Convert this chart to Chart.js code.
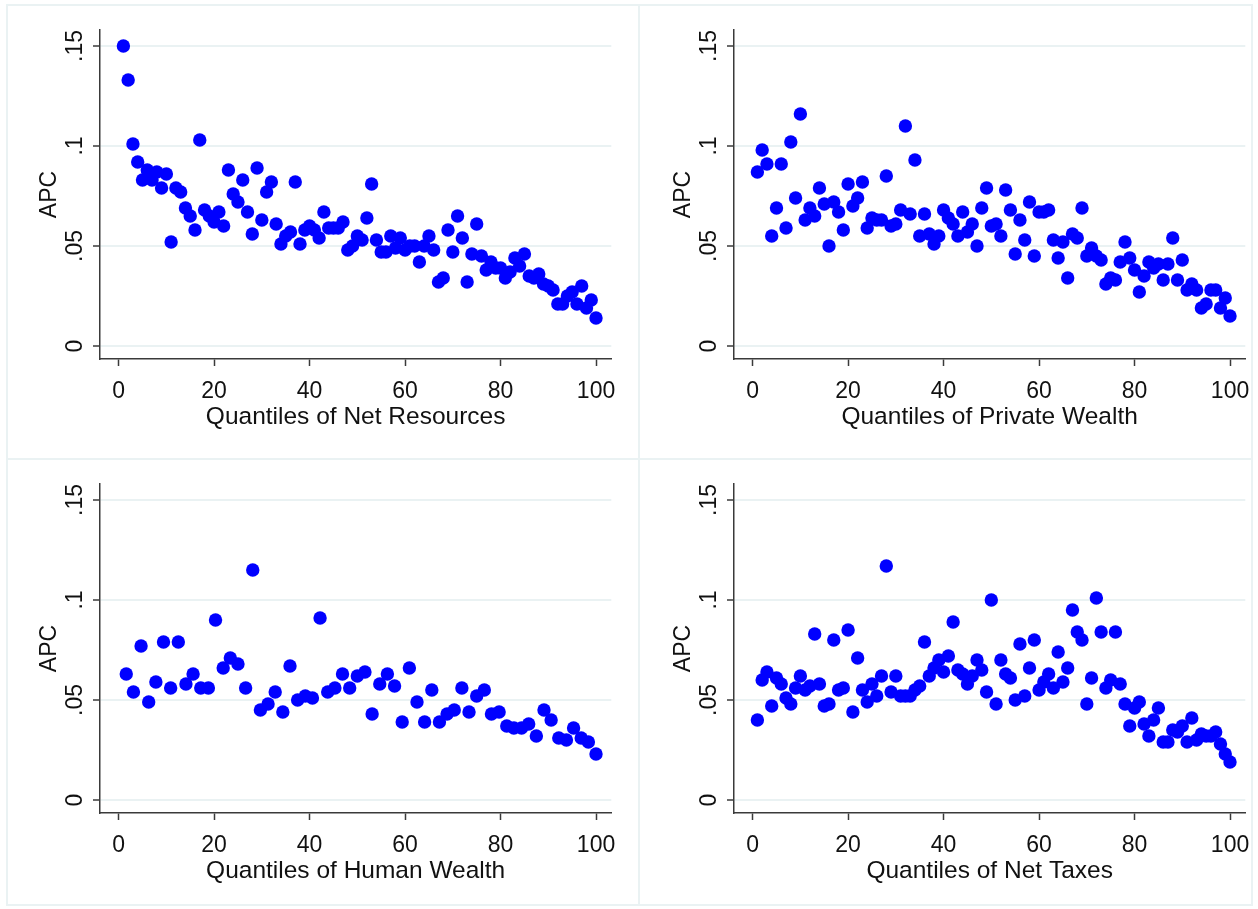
<!DOCTYPE html>
<html>
<head>
<meta charset="utf-8">
<script src="https://cdn.jsdelivr.net/npm/chart.js@4/dist/chart.umd.min.js"></script>
<style>
  html, body { margin: 0; padding: 0; background: #fff; overflow: hidden; }
  #wrap { position: relative; width: 1258px; height: 909px; }
  .panel { position: absolute; width: 612px; height: 452px; }
  .panel canvas { display: block; }
  .line { position: absolute; background: #eaf2f3; }
</style>
</head>
<body>
<div id="wrap">
  <div class="line" style="left:6px; top:4px; width:1247px; height:2px;"></div>
  <div class="line" style="left:6px; top:4px; width:2px; height:902px;"></div>
  <div class="line" style="left:638px; top:4px; width:2px; height:902px;"></div>
  <div class="line" style="left:6px; top:458px; width:1247px; height:2px;"></div>
  <div class="line" style="left:1251px; top:4px; width:2px; height:902px;"></div>
  <div class="line" style="left:6px; top:904px; width:1247px; height:2px;"></div>
  <div class="panel" style="left:6px; top:4px;"><canvas id="c1" width="612" height="452"></canvas></div>
  <div class="panel" style="left:640px; top:4px;"><canvas id="c2" width="612" height="452"></canvas></div>
  <div class="panel" style="left:6px; top:458px;"><canvas id="c3" width="612" height="452"></canvas></div>
  <div class="panel" style="left:640px; top:458px;"><canvas id="c4" width="612" height="452"></canvas></div>
</div>
<script>
// quantile positions 1..100 used by three of the panels
const quantiles = Array.from({ length: 100 }, (_, i) => i + 1);

const netResourcesApc = [
  .150, .133, .101, .092, .083, .088, .083, .087, .079, .086,
  .052, .079, .077, .069, .065, .058, .103, .068, .065, .062,
  .067, .060, .088, .076, .072, .083, .067, .056, .089, .063,
  .077, .082, .061, .051, .055, .057, .082, .051, .058, .060,
  .058, .054, .067, .059, .059, .059, .062, .048, .050, .055,
  .053, .064, .081, .053, .047, .047, .055, .049, .054, .048,
  .050, .050, .042, .050, .055, .048, .032, .034, .058, .047,
  .065, .054, .032, .046, .061, .045, .038, .042, .039, .039,
  .034, .037, .044, .040, .046, .035, .034, .036, .031, .030,
  .028, .021, .021, .025, .027, .021, .030, .019, .023, .014
];

const privateWealthApc = [
  .087, .098, .091, .055, .069, .091, .059, .102, .074, .116,
  .063, .069, .065, .079, .071, .050, .072, .067, .058, .081,
  .070, .074, .082, .059, .064, .063, .063, .085, .060, .061,
  .068, .110, .066, .093, .055, .066, .056, .051, .055, .068,
  .064, .061, .055, .067, .057, .061, .050, .069, .079, .060,
  .061, .055, .078, .068, .046, .063, .053, .072, .045, .067,
  .067, .068, .053, .044, .052, .034, .056, .054, .069, .045,
  .049, .045, .043, .031, .034, .033, .042, .052, .044, .038,
  .027, .035, .042, .039, .041, .033, .041, .054, .033, .043,
  .028, .031, .028, .019, .021, .028, .028, .019, .024, .015
];

// human wealth panel has 64 quantiles
const humanWealthQ = [
  1.6, 3.1, 4.7, 6.3, 7.8, 9.4, 10.9, 12.5, 14.1, 15.6,
  17.2, 18.8, 20.3, 21.9, 23.4, 25.0, 26.6, 28.1, 29.7, 31.3,
  32.8, 34.4, 35.9, 37.5, 39.1, 40.6, 42.2, 43.8, 45.3, 46.9,
  48.4, 50.0, 51.6, 53.1, 54.7, 56.3, 57.8, 59.4, 60.9, 62.5,
  64.1, 65.6, 67.2, 68.8, 70.3, 71.9, 73.4, 75.0, 76.6, 78.1,
  79.7, 81.3, 82.8, 84.4, 85.9, 87.5, 89.1, 90.6, 92.2, 93.8,
  95.3, 96.9, 98.4, 100.0
];
const humanWealthApc = [
  .063, .054, .077, .049, .059, .079, .056, .079, .058, .063,
  .056, .056, .090, .066, .071, .068, .056, .115, .045, .048,
  .054, .044, .067, .050, .052, .051, .091, .054, .056, .063,
  .056, .062, .064, .043, .058, .063, .057, .039, .066, .049,
  .039, .055, .039, .043, .045, .056, .044, .052, .055, .043,
  .044, .037, .036, .036, .038, .032, .045, .040, .031, .030,
  .036, .031, .029, .023
];

const netTaxesApc = [
  .040, .060, .064, .047, .061, .058, .051, .048, .056, .062,
  .055, .057, .083, .058, .047, .048, .080, .055, .056, .085,
  .044, .071, .055, .049, .058, .052, .062, .117, .054, .062,
  .052, .052, .052, .055, .057, .079, .062, .066, .070, .064,
  .072, .089, .065, .063, .058, .062, .070, .065, .054, .100,
  .048, .070, .063, .061, .050, .078, .052, .066, .080, .055,
  .059, .063, .056, .074, .059, .066, .095, .084, .080, .048,
  .061, .101, .084, .056, .060, .084, .058, .048, .037, .046,
  .049, .038, .032, .040, .046, .029, .029, .035, .034, .037,
  .029, .041, .030, .033, .032, .032, .034, .028, .023, .019
];

const xTicks = [0, 20, 40, 60, 80, 100];
const yTicks = [0, 0.05, 0.1, 0.15];
const yTickLabels = ['0', '.05', '.1', '.15'];

const fonte = "'Liberation Sans', Arial, sans-serif";
const corTexto = '#111111';
const corEixo = '#3a3a3a';
const corGrade = '#eaf2f3';

// y labels in Stata are rotated, so they are drawn here
const rotuloY = {
  id: 'rotuloY',
  afterDraw(chart) {
    const ctx = chart.ctx;
    const y = chart.scales.y;
    ctx.save();
    ctx.fillStyle = corTexto;
    ctx.font = '23px ' + fonte;
    ctx.textAlign = 'center';
    ctx.textBaseline = 'alphabetic';
    for (let i = 0; i < yTicks.length; i++) {
      const py = y.getPixelForValue(yTicks[i]);
      ctx.save();
      ctx.translate(chart.chartArea.left - 18, py);
      ctx.rotate(-Math.PI / 2);
      ctx.fillText(yTickLabels[i], 0, 0);
      ctx.restore();
    }
    ctx.restore();
  }
};

function plotarPainel(id, xs, ys, tituloX) {
  const pontos = [];
  for (let i = 0; i < ys.length; i++) {
    pontos.push({ x: xs[i], y: ys[i] });
  }
  const config = {
    type: 'scatter',
    data: {
      datasets: [{
        data: pontos,
        backgroundColor: '#0000ff',
        borderWidth: 0,
        pointRadius: 6.7,
        pointHoverRadius: 6.7
      }]
    },
    options: {
      responsive: false,
      animation: false,
      devicePixelRatio: 1,
      layout: { padding: { left: 0, right: 4, top: 26, bottom: 0 } },
      plugins: { legend: { display: false }, tooltip: { enabled: false } },
      scales: {
        x: {
          type: 'linear',
          min: -3.9,
          max: 103.2,
          afterBuildTicks: s => { s.ticks = xTicks.map(v => ({ value: v })); },
          afterFit: s => { s.height = 97; s.paddingLeft = 0; s.paddingRight = 0; },
          grid: { drawOnChartArea: false, drawTicks: true, tickLength: 7, color: corEixo, tickColor: corEixo, tickWidth: 1.5 },
          border: { display: true, color: corEixo, width: 1.5 },
          ticks: { color: corTexto, font: { family: fonte, size: 23 }, padding: 12, maxRotation: 0 },
          title: { display: true, text: tituloX, color: corTexto, font: { family: fonte, size: 24.5 }, padding: { top: 0, bottom: 24 } }
        },
        y: {
          type: 'linear',
          min: -0.0065,
          max: 0.158,
          afterBuildTicks: s => { s.ticks = yTicks.map(v => ({ value: v })); },
          afterFit: s => { s.width = 94; s.paddingTop = 0; s.paddingBottom = 0; },
          grid: { color: corGrade, lineWidth: 2, drawTicks: true, tickLength: 7, tickColor: corEixo, tickWidth: 1.5 },
          border: { display: true, color: corEixo, width: 1.5 },
          ticks: { display: false },
          title: { display: true, text: 'APC', color: corTexto, font: { family: fonte, size: 23 }, padding: { top: 30, bottom: 0 } }
        }
      }
    },
    plugins: [rotuloY]
  };
  const ctx = document.getElementById(id).getContext('2d');
  return new Chart(ctx, config);
}

plotarPainel('c1', quantiles, netResourcesApc, 'Quantiles of Net Resources');
plotarPainel('c2', quantiles, privateWealthApc, 'Quantiles of Private Wealth');
plotarPainel('c3', humanWealthQ, humanWealthApc, 'Quantiles of Human Wealth');
plotarPainel('c4', quantiles, netTaxesApc, 'Quantiles of Net Taxes');
</script>
</body>
</html>
